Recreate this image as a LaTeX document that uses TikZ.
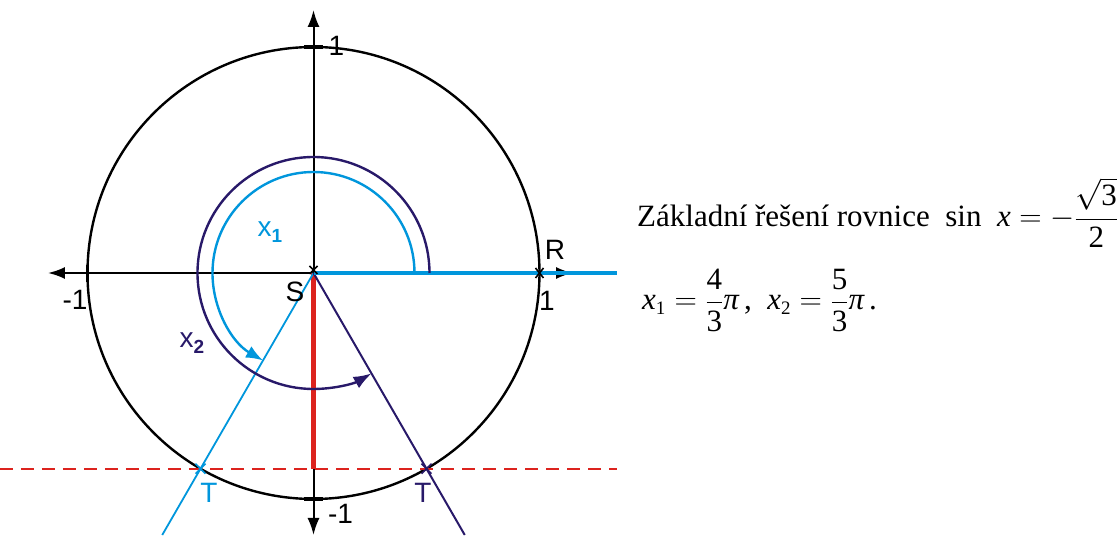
\documentclass[tikz,border=0pt]{standalone}
\usepackage{fix-cm}
\usepackage{fontspec}
\setmainfont{Liberation Serif}
\newfontfamily\labfont{Liberation Sans}
\newfontfamily\serfont{Liberation Serif}
\usetikzlibrary{arrows.meta,calc}
\definecolor{lblue}{RGB}{0,150,220}
\definecolor{navy}{RGB}{40,25,105}
\definecolor{myred}{RGB}{220,35,30}
\newcommand{\tm}[1]{\mbox{\serfont\upshape #1}}
\newcommand{\ipi}{\mbox{\serfont\itshape π}}
\begin{document}
\begin{tikzpicture}[x=1pt,y=1pt,
  axisline/.style={line width=2pt,black},
  circline/.style={line width=2.4pt,black},
  axtip/.style={-{Latex[length=17pt,width=12pt]}},
  tickmark/.style={line width=3.5pt,black},
  lab/.style={font=\labfont\fontsize{28}{28}\selectfont, inner sep=0pt},
  crossmark/.style={line width=1.6pt},
  txt/.style={font=\serfont\fontsize{31}{37}\selectfont, inner sep=0pt, anchor=base west}]
\useasboundingbox (-313.5,-264) rectangle (805.5,273);
% coordinates
\coordinate (S) at (0,0);
\coordinate (R) at (226,0);
\coordinate (Top) at (0,263);
\coordinate (Bot) at (0,-262);
\coordinate (Left) at (-265.5,0);
\coordinate (Right) at (259.5,0);
\coordinate (Rend) at (303.5,0);
\coordinate (T1) at (240:226);
\coordinate (T2) at (300:226);
\coordinate (Dl) at (-313.5,-195.7);
\coordinate (Dr) at (303.5,-195.7);
\coordinate (Rb) at (0,-195.7);
\coordinate (L1) at (240:302.5);
\coordinate (L2) at (300:302.5);
% circle
\draw[circline] (S) circle[radius=226];
% axes
\draw[axisline,axtip] (S) -- (Top);
\draw[axisline,axtip] (S) -- (Bot);
\draw[axisline,axtip] (S) -- (Left);
\draw[axisline,axtip] (S) -- (Right);
% ticks
\draw[tickmark] (-9.5,226) -- (9.5,226);
\draw[tickmark] (-9.5,-226) -- (9.5,-226);
\draw[tickmark] (-226,8) -- (-226,-9);
% dashed line
\draw[myred,line width=1.8pt,dash pattern=on 13pt off 8pt] (Dl) -- (Dr);
% red segment
\draw[myred,line width=5pt] (S) -- (Rb);
% rays
\draw[lblue,line width=1.8pt] (S) -- (L1);
\draw[navy,line width=2pt] (S) -- (L2);
\draw[lblue,line width=3.6pt] (S) -- (Rend);
% arcs
\draw[navy,line width=2.4pt,-{Latex[length=18pt,width=13pt]}] (116,0) arc[start angle=0,end angle=300,radius=116];
\draw[lblue,line width=2.4pt,-{Latex[length=17pt,width=13pt]}] (101,0) arc[start angle=0,end angle=240,radius=101];
% crosses
\draw[crossmark,black] ($(R)+(-4,-5)$) -- ($(R)+(4,5)$) ($(R)+(-4,5)$) -- ($(R)+(4,-5)$);
\draw[crossmark,black] (-4,-1) -- (4,7) (-4,7) -- (4,-1);
\draw[crossmark,lblue] ($(T1)+(-5,-5)$) -- ($(T1)+(5,5)$) ($(T1)+(-5,5)$) -- ($(T1)+(5,-5)$);
\draw[crossmark,navy] ($(T2)+(-5,-5)$) -- ($(T2)+(5,5)$) ($(T2)+(-5,5)$) -- ($(T2)+(5,-5)$);
% labels
\node[lab] (l1t) at (23,227) {1};
\node[lab] (l1b) at (27,-241) {-1};
\node[lab] (l1l) at (-238.5,-27) {-1};
\node[lab] (l1r) at (233.5,-28) {1};
\node[lab] (lR) at (241.5,23) {R};
\node[lab] (lS) at (-18.5,-19) {S};
\node[lab,text=lblue] (lT1) at (-104.5,-220) {T};
\node[lab,text=navy] (lT2) at (109.5,-220) {T};
\node[lab,text=lblue] (lx1) at (-43.5,41) {x\raisebox{-6pt}{\fontsize{19}{19}\selectfont\bfseries 1}};
\node[lab,text=navy] (lx2) at (-121.5,-70) {x\raisebox{-6pt}{\fontsize{19}{19}\selectfont\bfseries 2}};
% text
\node[txt] (eq1) at (323.5,46.3) {Základní řešení rovnice \ sin \ $\mathit{x}=-{\displaystyle\frac{\sqrt{\tm{3}}}{\tm{2}}}$};
\node[txt] (eq2) at (328.5,-37) {$\displaystyle\mathit{x}_{\tm{\fontsize{19}{19}\selectfont 1}}=\frac{\tm{4}}{\tm{3}}\ipi$\,, \ $\displaystyle\mathit{x}_{\tm{\fontsize{19}{19}\selectfont 2}}=\frac{\tm{5}}{\tm{3}}\ipi$\,.};
\end{tikzpicture}
\end{document}
